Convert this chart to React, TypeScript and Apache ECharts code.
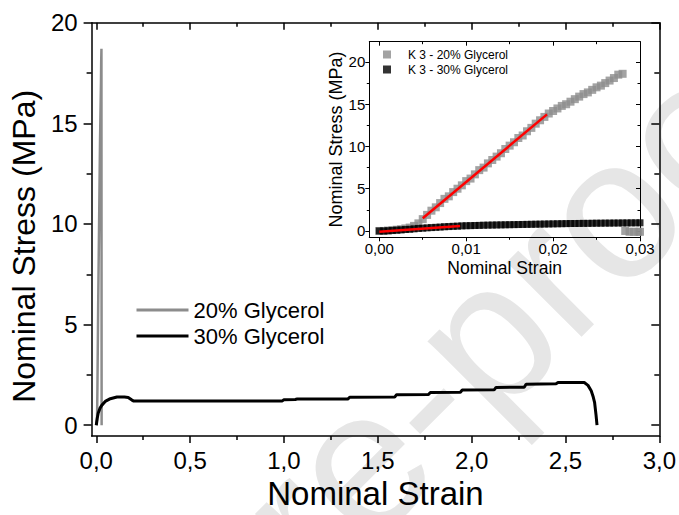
import React, { useEffect, useRef } from "react";
import * as echarts from "echarts";

// ---------- data ----------
const mainXTicks = [0, 0.5, 1.0, 1.5, 2.0, 2.5, 3.0];
const mainXMinor = [0.25, 0.75, 1.25, 1.75, 2.25, 2.75];
const mainYTicks = [0, 5, 10, 15, 20];
const mainYMinor = [2.5, 7.5, 12.5, 17.5];

const insetXTicks = [0, 0.01, 0.02, 0.03];
const insetXMinor = [0.005, 0.015, 0.025];
const insetYTicks = [0, 5, 10, 15, 20];
const insetYMinor = [2.5, 7.5, 12.5, 17.5];

const glycerol20 = [
  [0, 0], [0.004, 0.3], [0.006, 1.8], [0.01, 5.9], [0.015, 10.1], [0.02, 14.2],
  [0.025, 17.0], [0.026, 18.0], [0.0275, 18.7], [0.0285, 0], [0.03, 0],
];
const glycerol30 = [
  [0, 0], [0.005, 0.35], [0.01, 0.6], [0.02, 0.85], [0.03, 1.0], [0.05, 1.2],
  [0.07, 1.3], [0.09, 1.35], [0.11, 1.4], [0.15, 1.4], [0.17, 1.38], [0.19, 1.25],
  [0.2, 1.2], [0.5, 1.2], [0.99, 1.2], [1.0, 1.27], [1.06, 1.28], [1.07, 1.3],
  [1.34, 1.3], [1.35, 1.39], [1.59, 1.4], [1.6, 1.52], [1.77, 1.53], [1.78, 1.63],
  [1.94, 1.64], [1.95, 1.75], [2.12, 1.76], [2.13, 1.88], [2.28, 1.89], [2.29, 2.04],
  [2.45, 2.06], [2.46, 2.12], [2.6, 2.12], [2.62, 1.98], [2.637, 1.71], [2.648, 1.4],
  [2.655, 1.14], [2.663, 0.49], [2.668, 0],
];

const k3Glycerol20 = [
  [0, 0], [0.0005, 0], [0.001, 0.05], [0.0015, 0.1], [0.002, 0.15], [0.0025, 0.2],
  [0.003, 0.3], [0.0035, 0.4], [0.004, 0.6], [0.0045, 0.9], [0.005, 1.4], [0.0055, 1.9],
  [0.006, 2.4], [0.0065, 2.8], [0.007, 3.3], [0.0075, 3.8], [0.008, 4.1], [0.0085, 4.6],
  [0.009, 5.0], [0.0095, 5.4], [0.01, 5.9], [0.0105, 6.2], [0.011, 6.7], [0.0115, 7.2],
  [0.012, 7.5], [0.0125, 8.0], [0.013, 8.4], [0.0135, 8.8], [0.014, 9.2], [0.0145, 9.7],
  [0.015, 10.1], [0.0155, 10.5], [0.016, 11.0], [0.0165, 11.3], [0.017, 11.8], [0.0175, 12.2],
  [0.018, 12.7], [0.0185, 13.1], [0.019, 13.5], [0.0195, 13.9], [0.02, 14.2], [0.0205, 14.5],
  [0.021, 14.8], [0.0215, 15.0], [0.022, 15.3], [0.0225, 15.6], [0.023, 15.9], [0.0235, 16.2],
  [0.024, 16.4], [0.0245, 16.7], [0.025, 17.0], [0.0255, 17.2], [0.026, 17.5], [0.0265, 17.8],
  [0.027, 18.1], [0.0275, 18.5], [0.028, 18.6], [0.0283, 0], [0.0288, -0.1], [0.0293, -0.1],
  [0.0298, -0.1], [0.03, -0.1],
];
const k3Glycerol30 = [
  [0, 0], [0.0005, 0], [0.001, 0.03], [0.0015, 0.06], [0.002, 0.1], [0.0025, 0.13],
  [0.003, 0.17], [0.0035, 0.2], [0.004, 0.25], [0.0045, 0.3], [0.005, 0.33], [0.0055, 0.37],
  [0.006, 0.4], [0.0065, 0.43], [0.007, 0.46], [0.0075, 0.5], [0.008, 0.52], [0.0085, 0.55],
  [0.009, 0.57], [0.0095, 0.6], [0.01, 0.62], [0.0105, 0.63], [0.011, 0.65], [0.0115, 0.66],
  [0.012, 0.68], [0.0125, 0.69], [0.013, 0.7], [0.0135, 0.71], [0.014, 0.72], [0.0145, 0.73],
  [0.015, 0.74], [0.0155, 0.75], [0.016, 0.76], [0.0165, 0.77], [0.017, 0.78], [0.0175, 0.79],
  [0.018, 0.8], [0.0185, 0.81], [0.019, 0.82], [0.0195, 0.83], [0.02, 0.84], [0.0205, 0.85],
  [0.021, 0.86], [0.0215, 0.87], [0.022, 0.88], [0.0225, 0.88], [0.023, 0.89], [0.0235, 0.9],
  [0.024, 0.9], [0.0245, 0.91], [0.025, 0.92], [0.0255, 0.92], [0.026, 0.93], [0.0265, 0.93],
  [0.027, 0.94], [0.0275, 0.94], [0.028, 0.95], [0.0285, 0.95], [0.029, 0.96], [0.0295, 0.96],
  [0.03, 0.97],
];
const fit20 = [[0.005, 1.5], [0.0193, 13.8]];
const fit30 = [[0, -0.1], [0.0093, 0.6]];

const FONT = "'Liberation Sans', Arial, Helvetica, sans-serif";
const comma = (d: number) => (v: number) => v.toFixed(d).replace(".", ",");

function frameAxes(
  dim: "x" | "y",
  grid: number,
  min: number,
  max: number,
  major: number[],
  minor: number[],
  opts: any
) {
  const lineW = opts.lineWidth;
  const majLen = opts.majLen;
  const minLen = opts.minLen;
  const posA = dim === "x" ? "bottom" : "left";
  const posB = dim === "x" ? "top" : "right";
  const base = { type: "value", gridIndex: grid, min, max, splitLine: { show: false } };
  return [
    {
      ...base,
      position: posA,
      axisLine: { show: true, onZero: false, lineStyle: { color: "#000", width: lineW } },
      axisTick: { show: true, customValues: major, length: majLen, lineStyle: { color: "#000", width: lineW } },
      axisLabel: {
        show: true,
        customValues: major,
        formatter: comma(opts.decimals),
        fontSize: opts.labelSize,
        color: "#000",
        fontFamily: FONT,
        margin: opts.labelMargin,
      },
      name: opts.name,
      nameLocation: "middle",
      nameGap: opts.nameGap,
      nameTextStyle: {
        fontSize: opts.nameSize,
        color: "#000",
        fontFamily: FONT,
        padding: opts.namePadding || 0,
      },
    },
    {
      ...base,
      position: posA,
      axisLine: { show: false, onZero: false },
      axisTick: { show: true, customValues: minor, length: minLen, lineStyle: { color: "#000", width: lineW } },
      axisLabel: { show: false },
    },
    {
      ...base,
      position: posB,
      axisLine: { show: true, onZero: false, lineStyle: { color: "#000", width: lineW } },
      axisTick: { show: true, inside: true, customValues: major, length: majLen, lineStyle: { color: "#000", width: lineW } },
      axisLabel: { show: false },
    },
    {
      ...base,
      position: posB,
      axisLine: { show: false, onZero: false },
      axisTick: { show: true, inside: true, customValues: minor, length: minLen, lineStyle: { color: "#000", width: lineW } },
      axisLabel: { show: false },
    },
  ];
}

export default function App() {
  const ref = useRef<HTMLDivElement>(null);

  useEffect(() => {
    if (!ref.current) return;
    const chart = echarts.init(ref.current, null, { renderer: "svg" });

    const mainX = frameAxes("x", 0, -0.025, 3.0, mainXTicks, mainXMinor, {
      lineWidth: 1.5, majLen: 7, minLen: 4, decimals: 1, labelSize: 24, labelMargin: 12,
      name: "Nominal Strain", nameGap: 40, nameSize: 33,
    });
    const mainY = frameAxes("y", 0, -0.54, 20, mainYTicks, mainYMinor, {
      lineWidth: 1.5, majLen: 8, minLen: 5, decimals: 0, labelSize: 24, labelMargin: 14,
      name: "Nominal Stress (MPa)", nameGap: 42, nameSize: 32, namePadding: [0, 34, 0, 0],
    });
    const insetX = frameAxes("x", 1, -0.00115, 0.03, insetXTicks, insetXMinor, {
      lineWidth: 1, majLen: 4, minLen: 2.5, decimals: 2, labelSize: 15, labelMargin: 4,
      name: "Nominal Strain", nameGap: 22, nameSize: 17.5,
    });
    const insetY = frameAxes("y", 1, -0.75, 22.4, insetYTicks, insetYMinor, {
      lineWidth: 1, majLen: 4, minLen: 2.5, decimals: 0, labelSize: 15, labelMargin: 4,
      name: "Nominal Stress (MPa)", nameGap: 22, nameSize: 18,
    });

    chart.setOption({
      animation: false,
      backgroundColor: "#fff",
      textStyle: { fontFamily: FONT },
      graphic: [
        {
          type: "text",
          z: -10,
          silent: true,
          x: 220,
          y: 600,
          rotation: Math.PI / 4,
          style: {
            text: "Journal Pre-proof",
            fontSize: 200,
            fontFamily: FONT,
            fill: "#e6e6e6",
            align: "center",
            verticalAlign: "middle",
          },
        },
      ],
      grid: [
        { left: 91, top: 22.7, width: 569, height: 418.3 },
        { left: 369.3, top: 41.7, width: 270.7, height: 195.6 },
      ],
      xAxis: [...mainX, ...insetX],
      yAxis: [...mainY, ...insetY],
      legend: [
        {
          data: ["20% Glycerol", "30% Glycerol"],
          orient: "vertical",
          left: 136.5,
          top: 299,
          padding: 0,
          itemGap: 4,
          itemWidth: 52,
          itemHeight: 3,
          icon: "rect",
          textStyle: { fontSize: 22, color: "#000", fontFamily: FONT },
        },
        {
          data: ["K 3 - 20% Glycerol", "K 3 - 30% Glycerol"],
          orient: "vertical",
          left: 383,
          top: 48.5,
          padding: 0,
          itemGap: 3,
          itemWidth: 20,
          itemHeight: 8,
          icon: "path://M0,0h8v8h-8zM19.9,0h0.1v0.1h-0.1z",
          textStyle: { fontSize: 12, color: "#000", fontFamily: FONT },
        },
      ],
      series: [
        {
          name: "20% Glycerol",
          type: "line",
          xAxisIndex: 0,
          yAxisIndex: 0,
          data: glycerol20,
          symbol: "none",
          color: "#8c8c8c",
          lineStyle: { color: "#8c8c8c", width: 2.5 },
        },
        {
          name: "30% Glycerol",
          type: "line",
          xAxisIndex: 0,
          yAxisIndex: 0,
          data: glycerol30,
          symbol: "none",
          color: "#000",
          lineStyle: { color: "#000", width: 3 },
        },
        {
          name: "K 3 - 20% Glycerol",
          type: "scatter",
          xAxisIndex: 4,
          yAxisIndex: 4,
          data: k3Glycerol20,
          symbol: "rect",
          symbolSize: 8,
          color: "#8c8c8c",
          itemStyle: { color: "#8c8c8c" },
        },
        {
          name: "K 3 - 30% Glycerol",
          type: "scatter",
          xAxisIndex: 4,
          yAxisIndex: 4,
          data: k3Glycerol30,
          symbol: "rect",
          symbolSize: 7,
          color: "#000",
          itemStyle: { color: "#000" },
        },
        {
          name: "fit20",
          type: "line",
          xAxisIndex: 4,
          yAxisIndex: 4,
          data: fit20,
          symbol: "none",
          z: 5,
          lineStyle: { color: "#ff0000", width: 2.5 },
        },
        {
          name: "fit30",
          type: "line",
          xAxisIndex: 4,
          yAxisIndex: 4,
          data: fit30,
          symbol: "none",
          z: 5,
          lineStyle: { color: "#ff0000", width: 2.5 },
        },
      ],
    });

    return () => chart.dispose();
  }, []);

  return (
    <div
      ref={ref}
      style={{ position: "fixed", left: 0, top: 0, width: 679, height: 515 }}
    />
  );
}
